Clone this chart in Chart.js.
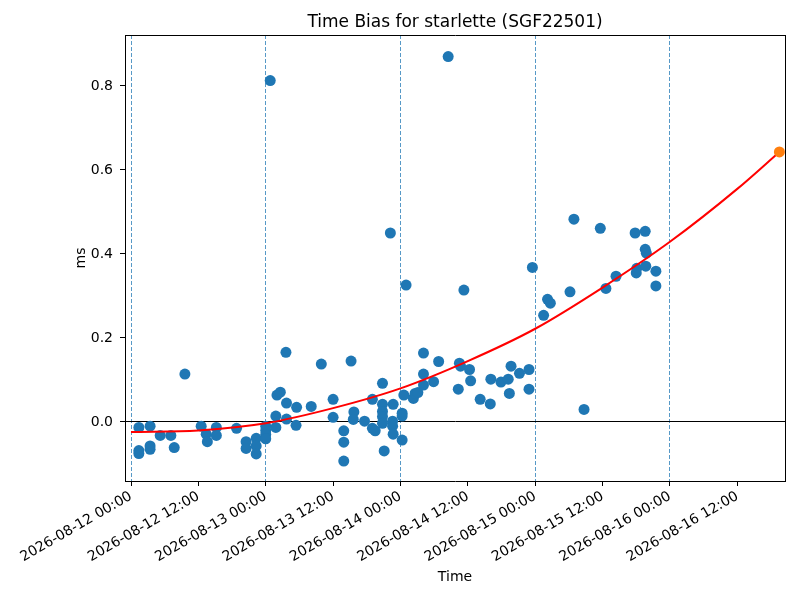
<!DOCTYPE html>
<html>
<head>
<meta charset="utf-8">
<title>Time Bias for starlette</title>
<script src="https://cdn.jsdelivr.net/npm/chart.js@4/dist/chart.umd.min.js"></script>
<style>
  body { margin: 0; background: #fff; }
  #wrap { width: 800px; height: 600px; }
</style>
</head>
<body>
<div id="wrap"><canvas id="biasChart" width="800" height="600"></canvas></div>
<script>
//Observations: hours since 2026-08-12 00:00 and time bias in ms
const obsHours = [
    1.4, 1.4, 1.4, 3.4, 3.4, 3.4, 5.2, 7.1, 7.7, 9.6,
    12.5, 13.4, 13.6, 15.2, 15.2, 18.8, 20.5, 20.5, 22.3, 22.3,
    22.3, 24.0, 24.0, 24.0, 24.0, 24.8, 25.8, 25.8, 26.0, 26.6,
    27.6, 27.7, 27.7, 29.4, 29.5, 32.1, 33.9, 36.0, 36.0, 37.9,
    37.9, 37.9, 39.2, 39.7, 39.6, 41.6, 43.0, 43.0, 43.5, 44.8,
    44.8, 44.8, 44.8, 44.8, 45.1, 46.2, 46.6, 46.6, 46.7, 46.7,
    48.3, 48.3, 48.3, 48.6, 49.0, 50.3, 50.6, 51.1, 52.1, 52.1,
    52.1, 53.9, 54.8, 56.5, 58.3, 58.5, 58.7, 59.3, 60.3, 60.5,
    62.2, 64.0, 64.1, 65.9, 67.2, 67.7, 67.4, 69.2, 70.9, 70.9,
    71.5, 73.5, 74.2, 74.7, 78.2, 78.9, 80.7, 83.6, 84.6, 86.4,
    89.8, 91.6, 90.1, 90.0, 91.6, 91.8, 91.7, 93.5, 93.5
];
const obsMs = [
    -0.013, -0.068, -0.075, -0.010, -0.057, -0.065, -0.032, -0.032, -0.061, 0.114,
    -0.010, -0.029, -0.047, -0.013, -0.032, -0.015, -0.047, -0.063, -0.039, -0.057,
    -0.076, -0.010, -0.020, -0.030, -0.040, 0.813, 0.014, -0.013, 0.064, 0.071,
    0.166, 0.045, 0.007, -0.008, 0.035, 0.037, 0.138, 0.054, 0.011, -0.021,
    -0.048, -0.093, 0.145, 0.024, 0.006, 0.002, 0.054, -0.015, -0.021, 0.092,
    0.042, 0.025, 0.013, -0.003, -0.069, 0.450, 0.002, -0.010, -0.029, 0.042,
    0.021, 0.014, -0.043, 0.064, 0.326, 0.056, 0.068, 0.070, 0.164, 0.114,
    0.088, 0.096, 0.144, 0.870, 0.078, 0.140, 0.133, 0.314, 0.125, 0.098,
    0.054, 0.043, 0.102, 0.095, 0.102, 0.133, 0.068, 0.116, 0.125, 0.078,
    0.368, 0.254, 0.292, 0.283, 0.310, 0.483, 0.030, 0.461, 0.318, 0.347,
    0.450, 0.454, 0.366, 0.355, 0.411, 0.402, 0.371, 0.359, 0.324
];

//Fitted trend (red line)
const fitHours = [0, 12, 24, 36, 48, 60, 72, 84, 96, 108, 115.5];
const fitMs = [-0.024, -0.020, -0.003, 0.033, 0.080, 0.145, 0.222, 0.320, 0.429, 0.555, 0.643];

//Predicted end point (orange)
const predHours = [115.5];
const predMs = [0.643];

//Axis ticks
const xTickHours = [0, 12, 24, 36, 48, 60, 72, 84, 96, 108];
const xTickLabels = [
    '2026-08-12 00:00', '2026-08-12 12:00', '2026-08-13 00:00', '2026-08-13 12:00',
    '2026-08-14 00:00', '2026-08-14 12:00', '2026-08-15 00:00', '2026-08-15 12:00',
    '2026-08-16 00:00', '2026-08-16 12:00'
];
const yTicks = [0.0, 0.2, 0.4, 0.6, 0.8];

const toPoints = (xs, ys) => xs.map((x, i) => ({ x: x, y: ys[i] }));

Chart.defaults.font.family = "'DejaVu Sans', sans-serif";
Chart.defaults.font.size = 14;
Chart.defaults.color = '#000';

const blue = '#1f77b4';

const config = {
    data: {
        datasets: [
            {
                type: 'scatter',
                label: 'predicted',
                data: toPoints(predHours, predMs),
                backgroundColor: '#ff7f0e',
                borderWidth: 0,
                pointRadius: 5.5,
                order: 0
            },
            {
                type: 'line',
                label: 'fit',
                data: toPoints(fitHours, fitMs),
                borderColor: '#ff0000',
                borderWidth: 2,
                pointRadius: 0,
                fill: false,
                cubicInterpolationMode: 'monotone',
                order: 1
            },
            {
                type: 'scatter',
                label: 'bias',
                data: toPoints(obsHours, obsMs),
                backgroundColor: blue,
                borderWidth: 0,
                pointRadius: 5.5,
                order: 2
            }
        ]
    },
    options: {
        responsive: false,
        animation: false,
        devicePixelRatio: 1,
        layout: { padding: { left: 57, right: 15, top: 12, bottom: 8 } },
        plugins: {
            legend: { display: false },
            tooltip: { enabled: false }
        },
        scales: {
            x: {
                type: 'linear',
                position: 'bottom',
                min: -1.07,
                max: 116.5,
                afterBuildTicks: scale => { scale.ticks = xTickHours.map(v => ({ value: v })); },
                afterFit: scale => { scale.height = 111; },
                ticks: {
                    autoSkip: false,
                    minRotation: 30,
                    maxRotation: 30,
                    padding: 2,
                    callback: (value, index) => xTickLabels[index]
                },
                //only the day boundaries get a dashed line
                grid: {
                    color: ctx => (ctx.tick && ctx.tick.value % 24 === 0) ? 'rgba(31,119,180,0.75)' : 'rgba(0,0,0,0)',
                    lineWidth: 1,
                    tickColor: '#000',
                    tickLength: 5,
                    tickWidth: 1
                },
                border: { color: '#000', width: 1, dash: [4, 2] },
                title: { display: true, text: 'Time', padding: { top: 0, bottom: 6 } }
            },
            y: {
                type: 'linear',
                position: 'left',
                min: -0.1405,
                max: 0.9214,
                afterBuildTicks: scale => { scale.ticks = yTicks.map(v => ({ value: v })); },
                afterFit: scale => { scale.width = 68; },
                ticks: {
                    padding: 7,
                    callback: value => value.toFixed(1)
                },
                //zero line
                grid: {
                    color: ctx => (ctx.tick && ctx.tick.value === 0) ? '#000' : 'rgba(0,0,0,0)',
                    lineWidth: 1,
                    tickColor: '#000',
                    tickLength: 5,
                    tickWidth: 1
                },
                border: { color: '#000', width: 1 },
                title: { display: true, text: 'ms', padding: { top: 16, bottom: 0 } }
            },
            xTop: {
                type: 'linear',
                position: 'top',
                afterFit: scale => { scale.height = 23; },
                ticks: { display: false },
                grid: { display: false, drawTicks: false },
                border: { color: '#000', width: 1 },
                title: {
                    display: true,
                    text: 'Time Bias for starlette (SGF22501)',
                    font: { size: 17 },
                    padding: { top: 0, bottom: 3 }
                }
            },
            yRight: {
                type: 'linear',
                position: 'right',
                ticks: { display: false },
                grid: { display: false, drawTicks: false },
                border: { color: '#000', width: 1 }
            }
        }
    }
};

const ctx = document.getElementById('biasChart').getContext('2d');
new Chart(ctx, config);
</script>
</body>
</html>
